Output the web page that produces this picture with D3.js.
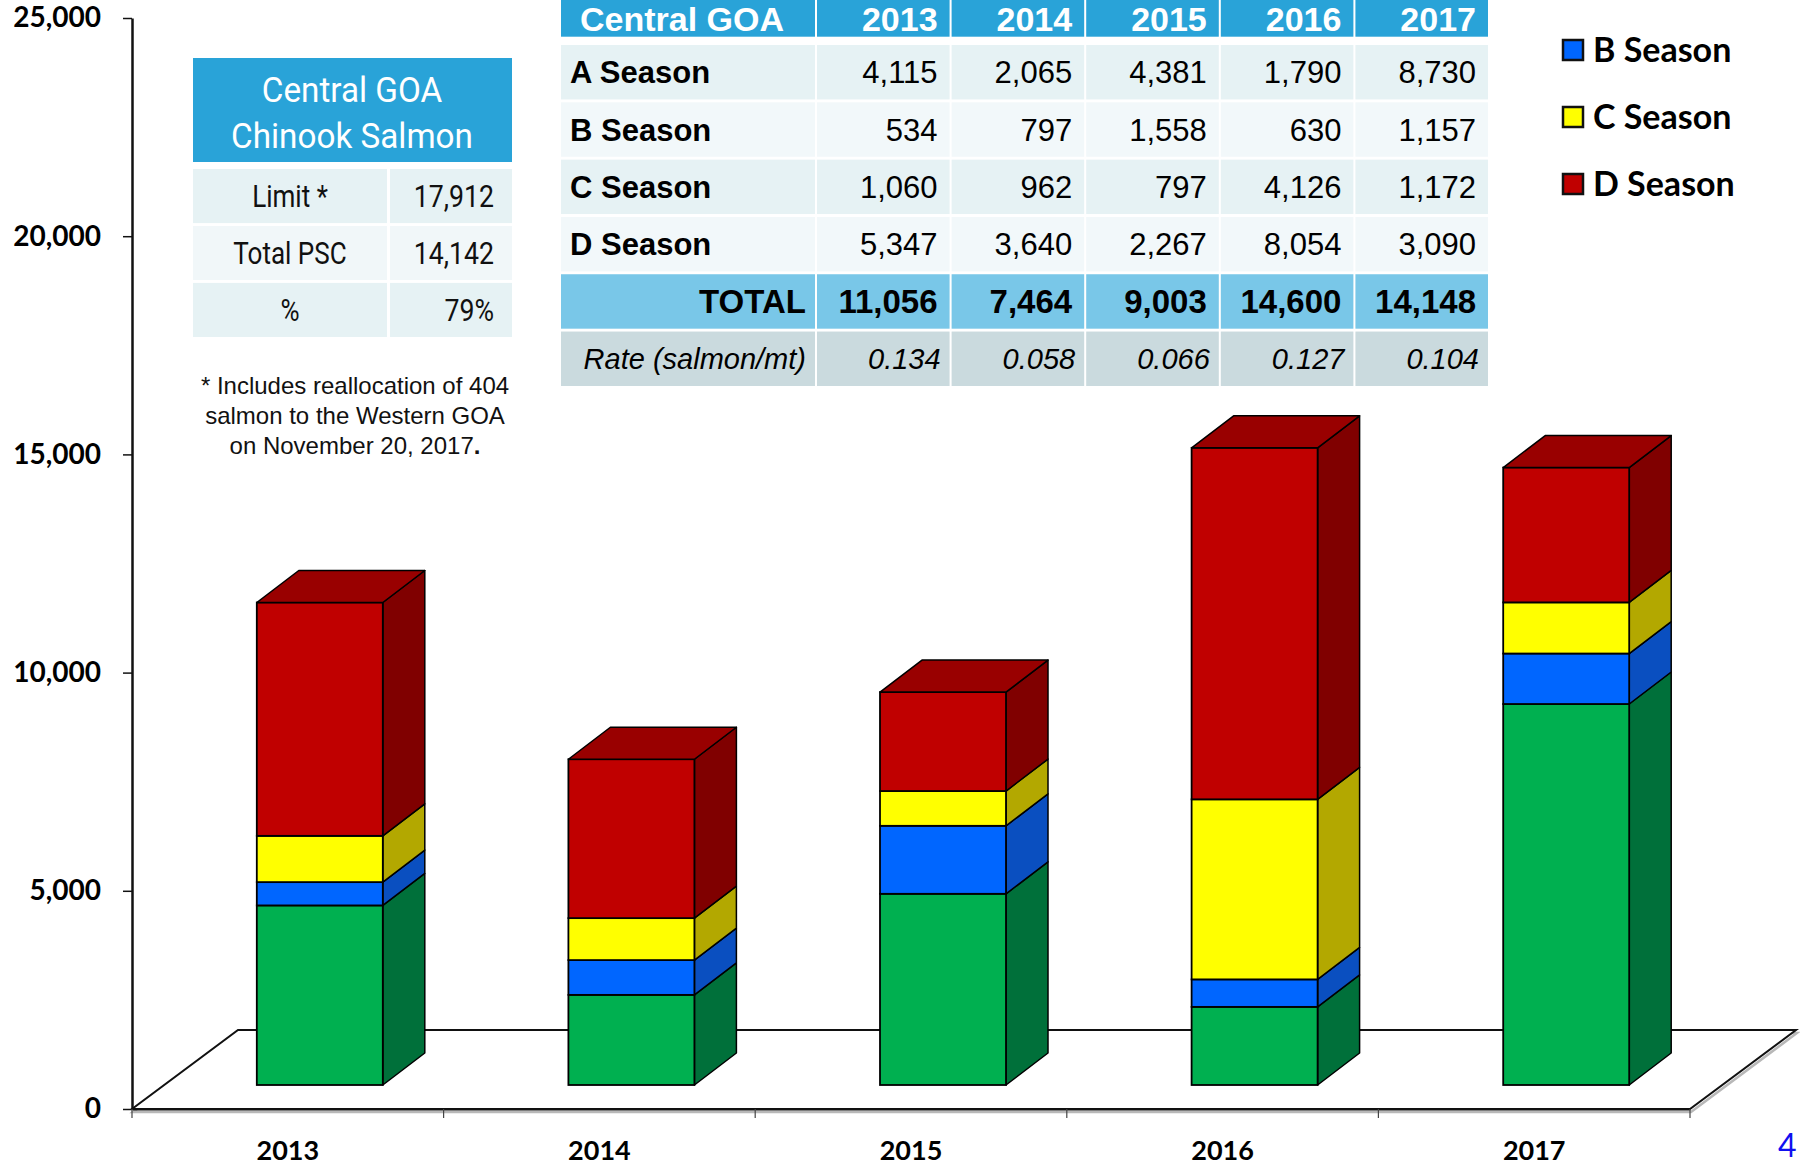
<!DOCTYPE html>
<html>
<head>
<meta charset="utf-8">
<script src="https://cdn.jsdelivr.net/npm/d3@7"></script>
<style>
  body { margin: 0; background: #fff; }
  svg { display: block; }
</style>
</head>
<body>
<svg id="chart" width="1800" height="1165"></svg>
<script>
// Central GOA Chinook salmon PSC by season
const years = ["2013", "2014", "2015", "2016", "2017"];
const aSeason = [4115, 2065, 4381, 1790, 8730];
const bSeason = [534, 797, 1558, 630, 1157];
const cSeason = [1060, 962, 797, 4126, 1172];
const dSeason = [5347, 3640, 2267, 8054, 3090];
const totals = [11056, 7464, 9003, 14600, 14148];
const rates = ["0.134", "0.058", "0.066", "0.127", "0.104"];
const yTicks = [0, 5000, 10000, 15000, 20000, 25000];

const seasonNames = ["A Season", "B Season", "C Season", "D Season"];
const legendSeasons = ["B Season", "C Season", "D Season"];
const pscRows = [["Limit *", "17,912"], ["Total PSC", "14,142"], ["%", "79%"]];
const pscTitle = ["Central GOA", "Chinook Salmon"];
const footnote = ["* Includes reallocation of 404", "salmon to the Western GOA", "on November 20, 2017"];

// face colours: front, side, top
const faceColors = {
  "A Season": { front: "#00B050", side: "#00703A", top: "#00963F" },
  "B Season": { front: "#0066FF", side: "#0A4FC0", top: "#0A58D8" },
  "C Season": { front: "#FFFF00", side: "#B3A800", top: "#D8D000" },
  "D Season": { front: "#C00000", side: "#800000", top: "#990000" }
};

const svg = d3.select("#chart");
const fontBold = "Lato, 'Open Sans', sans-serif";
const fontArial = "'Liberation Sans', Arial, sans-serif";
const fontNarrow = "Roboto, 'Open Sans', sans-serif";

// ---------- scales ----------
const y = d3.scaleLinear().domain([0, 25000]).range([1109, 18]);
const x = d3.scaleBand().domain(years).range([132, 1690]);

// oblique projection of the depth axis
const floorDX = 106, floorDY = -79;
const barShiftX = 32, barShiftY = -24;   // bar sits mid-depth on the floor
const barDX = 42, barDY = -32;           // depth of each bar
const barW = 126;

// ---------- floor ----------
const y0 = y(0);
const floorPts = [
  [x.range()[0], y0], [x.range()[1], y0],
  [x.range()[1] + floorDX, y0 + floorDY], [x.range()[0] + floorDX, y0 + floorDY]
];
const floorLine = d3.line();
svg.append("path")
  .attr("d", floorLine(floorPts) + "Z")
  .attr("transform", "translate(1,3)")
  .attr("fill", "none").attr("stroke", "#b8b8b8").attr("stroke-width", 2.5);
svg.append("path")
  .attr("d", floorLine(floorPts) + "Z")
  .attr("fill", "#fff").attr("stroke", "#111").attr("stroke-width", 2);

// ---------- y axis ----------
const yAxis = d3.axisLeft(y)
  .tickValues(yTicks)
  .tickFormat(d3.format(","))
  .tickSize(9)
  .tickSizeOuter(0)
  .tickPadding(22);
const gy = svg.append("g").attr("transform", `translate(${x.range()[0]},0)`).call(yAxis);
gy.select(".domain").attr("stroke", "#111").attr("stroke-width", 2.5);
gy.selectAll(".tick line").attr("stroke", "#111").attr("stroke-width", 1.5);
gy.selectAll(".tick text")
  .attr("font-family", fontBold).attr("font-weight", 700)
  .attr("font-size", 28).attr("fill", "#000");

// ---------- x axis ----------
const xAxis = d3.axisBottom(x).tickSize(0).tickSizeOuter(0).tickPadding(32);
const gx = svg.append("g").attr("transform", `translate(0,${y0})`).call(xAxis);
gx.select(".domain").attr("stroke", "#111").attr("stroke-width", 2);
gx.selectAll(".tick text")
  .attr("font-family", fontBold).attr("font-weight", 700)
  .attr("font-size", 27).attr("fill", "#000");
const bounds = years.map(d => x(d)).concat([x.range()[1]]);
gx.selectAll("line.sep").data(bounds).join("line")
  .attr("class", "sep")
  .attr("x1", d => d).attr("x2", d => d)
  .attr("y1", 0).attr("y2", 9)
  .attr("stroke", "#444").attr("stroke-width", 1.2);

// ---------- stacked 3D bars ----------
const rows = years.map((yr, i) => ({
  year: yr,
  "A Season": aSeason[i], "B Season": bSeason[i],
  "C Season": cSeason[i], "D Season": dSeason[i]
}));
const series = d3.stack().keys(seasonNames)(rows);

const barsG = svg.append("g");
years.forEach((yr, i) => {
  const g = barsG.append("g");
  const xl = x(yr) + x.bandwidth() / 2 + barShiftX - barW / 2;
  const xr = xl + barW;
  series.forEach((s, k) => {
    const seg = s[i];
    const yTop = y(seg[1]) + barShiftY;
    const yBot = y(seg[0]) + barShiftY;
    const col = faceColors[s.key];
    // side face
    g.append("path")
      .attr("d", floorLine([[xr, yBot], [xr + barDX, yBot + barDY], [xr + barDX, yTop + barDY], [xr, yTop]]) + "Z")
      .attr("fill", col.side).attr("stroke", "#000").attr("stroke-width", 1.5).attr("stroke-linejoin", "round");
    // front face
    g.append("rect")
      .attr("x", xl).attr("y", yTop).attr("width", barW).attr("height", yBot - yTop)
      .attr("fill", col.front).attr("stroke", "#000").attr("stroke-width", 1.8);
    // top face on the highest segment
    if (k === series.length - 1) {
      g.append("path")
        .attr("d", floorLine([[xl, yTop], [xl + barDX, yTop + barDY], [xr + barDX, yTop + barDY], [xr, yTop]]) + "Z")
        .attr("fill", col.top).attr("stroke", "#000").attr("stroke-width", 1.5).attr("stroke-linejoin", "round");
    }
  });
});

// ---------- legend ----------
const legend = svg.append("g").attr("transform", "translate(1563,0)");
const legY = d3.scalePoint().domain(legendSeasons).range([50, 184]);
legendSeasons.forEach(name => {
  const cy = legY(name);
  legend.append("rect")
    .attr("x", 0).attr("y", cy - 10).attr("width", 20).attr("height", 20)
    .attr("fill", faceColors[name].front).attr("stroke", "#111").attr("stroke-width", 2.5);
  legend.append("text")
    .attr("x", 30).attr("y", cy + 12)
    .attr("font-family", fontBold).attr("font-weight", 700).attr("font-size", 34)
    .attr("fill", "#000").text(name);
});

// ---------- PSC summary box ----------
function condense(sel, f) {
  sel.each(function () {
    const w = this.getComputedTextLength();
    d3.select(this).attr("textLength", w * f).attr("lengthAdjust", "spacingAndGlyphs");
  });
}
const box = svg.append("g");
box.append("rect").attr("x", 193).attr("y", 58).attr("width", 319).attr("height", 104).attr("fill", "#29A3D8");
box.selectAll("text.title").data(pscTitle).join("text")
  .attr("class", "title")
  .attr("x", 352).attr("y", (d, i) => 102 + i * 46)
  .attr("text-anchor", "middle")
  .attr("font-family", fontNarrow).attr("font-size", 35).attr("fill", "#fff")
  .text(d => d)
  .call(condense, 0.95);
const pscY = d3.scaleBand().domain(pscRows.map(d => d[0])).range([169, 337]).paddingInner(0.05);
const pscFill = ["#E6F2F4", "#F1F7F9", "#E6F2F4"];
pscRows.forEach((r, i) => {
  const ry = pscY(r[0]), h = pscY.bandwidth();
  box.append("rect").attr("x", 193).attr("y", ry).attr("width", 194).attr("height", h).attr("fill", pscFill[i]);
  box.append("rect").attr("x", 390).attr("y", ry).attr("width", 122).attr("height", h).attr("fill", pscFill[i]);
  box.append("text")
    .attr("x", 290).attr("y", ry + h / 2 + 11).attr("text-anchor", "middle")
    .attr("font-family", fontNarrow).attr("font-size", 31).attr("fill", "#111")
    .text(r[0]).call(condense, 0.84);
  box.append("text")
    .attr("x", 494).attr("y", ry + h / 2 + 11).attr("text-anchor", "end")
    .attr("font-family", fontNarrow).attr("font-size", 31).attr("fill", "#111")
    .text(r[1]).call(condense, 0.86);
});
box.selectAll("text.note").data(footnote).join("text")
  .attr("class", "note")
  .attr("x", 355).attr("y", (d, i) => 394 + i * 30)
  .attr("text-anchor", "middle")
  .attr("font-family", fontArial).attr("font-size", 24).attr("fill", "#111")
  .each(function (d, i) {
    const t = d3.select(this);
    t.append("tspan").text(d);
    if (i === footnote.length - 1) t.append("tspan").attr("font-weight", 700).text(".");
  });

// ---------- season table ----------
const tbl = svg.append("g");
const colX = d3.scaleBand().domain(years).range([817, 1488]).paddingInner(0.015);
const labelX0 = 561, labelX1 = 815;
const tableRows = [
  { label: "A Season", vals: aSeason.map(d3.format(",")), fill: "#E6F2F4", kind: "season" },
  { label: "B Season", vals: bSeason.map(d3.format(",")), fill: "#F2F8FA", kind: "season" },
  { label: "C Season", vals: cSeason.map(d3.format(",")), fill: "#E6F2F4", kind: "season" },
  { label: "D Season", vals: dSeason.map(d3.format(",")), fill: "#F2F8FA", kind: "season" },
  { label: "TOTAL", vals: totals.map(d3.format(",")), fill: "#79C7E8", kind: "total" },
  { label: "Rate (salmon/mt)", vals: rates, fill: "#CADADE", kind: "rate" }
];
const rowY = d3.scaleBand().domain(tableRows.map(d => d.label)).range([45, 386]).paddingInner(0.05);

// header row
tbl.append("rect").attr("x", labelX0).attr("y", -10).attr("width", labelX1 - labelX0).attr("height", 46.7).attr("fill", "#29A3D8");
years.forEach(yr => {
  tbl.append("rect").attr("x", colX(yr)).attr("y", -10).attr("width", colX.bandwidth()).attr("height", 46.7).attr("fill", "#29A3D8");
  tbl.append("text")
    .attr("x", colX(yr) + colX.bandwidth() - 12).attr("y", 31).attr("text-anchor", "end")
    .attr("font-family", fontArial).attr("font-weight", 700).attr("font-size", 34).attr("fill", "#fff")
    .text(yr);
});
tbl.append("text")
  .attr("x", 580).attr("y", 31)
  .attr("font-family", fontArial).attr("font-weight", 700).attr("font-size", 34).attr("fill", "#fff")
  .text("Central GOA");

tableRows.forEach(r => {
  const ry = rowY(r.label), h = rowY.bandwidth();
  const fs = r.kind === "total" ? 33 : (r.kind === "rate" ? 29 : 31);
  const weight = r.kind === "rate" ? 400 : 700;
  const style = r.kind === "rate" ? "italic" : "normal";
  const base = ry + h / 2 + fs * 0.36;
  tbl.append("rect").attr("x", labelX0).attr("y", ry).attr("width", labelX1 - labelX0).attr("height", h).attr("fill", r.fill);
  const lab = tbl.append("text")
    .attr("y", base)
    .attr("font-family", fontArial).attr("font-weight", weight).attr("font-style", style)
    .attr("font-size", fs).attr("fill", "#000").text(r.label);
  if (r.kind === "season") lab.attr("x", 570);
  else lab.attr("x", labelX1 - 9).attr("text-anchor", "end");
  years.forEach((yr, i) => {
    tbl.append("rect").attr("x", colX(yr)).attr("y", ry).attr("width", colX.bandwidth()).attr("height", h).attr("fill", r.fill);
    tbl.append("text")
      .attr("x", colX(yr) + colX.bandwidth() - (r.kind === "rate" ? 9 : 12)).attr("y", base)
      .attr("text-anchor", "end")
      .attr("font-family", fontArial)
      .attr("font-weight", r.kind === "total" ? 700 : 400)
      .attr("font-style", style)
      .attr("font-size", fs).attr("fill", "#000")
      .text(r.vals[i]);
  });
});

// slide number
svg.append("text")
  .attr("x", 1778).attr("y", 1157)
  .attr("font-family", fontBold).attr("font-size", 32).attr("fill", "#1010F0")
  .text("4");
</script>
</body>
</html>
